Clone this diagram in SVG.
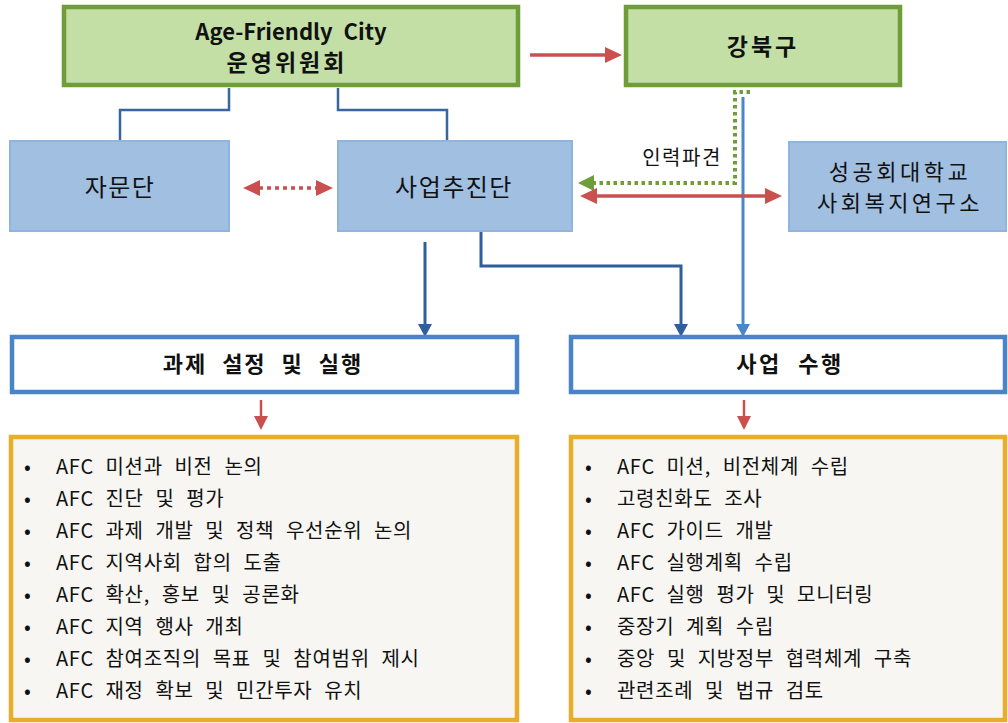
<svg xmlns="http://www.w3.org/2000/svg" width="1008" height="723" viewBox="0 0 1008 723">
<style>
.t{font-family:"Noto Sans CJK KR","Noto Sans",sans-serif;fill:#111;text-anchor:middle}
.b{font-weight:bold}
.green{fill:#c3dfa6;stroke:#6e9d3a;stroke-width:4.5}
.blue{fill:#a0bfe1;stroke:#8fb4de;stroke-width:2}
.white{fill:#fff;stroke:#4a84c8;stroke-width:4.5}
.orange{fill:#f7f6f2;stroke:#e9ad2c;stroke-width:4.5}
.li{font-family:"Noto Sans CJK KR","Noto Sans",sans-serif;font-size:20px;fill:#111;word-spacing:6.5px;letter-spacing:0.7px}
.c{fill:none}
</style>
<defs>
<marker id="mr" markerUnits="userSpaceOnUse" viewBox="0 -8 17 16" refX="1" refY="0" markerWidth="17" markerHeight="16" orient="auto-start-reverse"><path d="M0,-8 L17,0 L0,8 z" fill="#c9504f"/></marker>
<marker id="mrs" markerUnits="userSpaceOnUse" viewBox="0 -7 14 14" refX="1" refY="0" markerWidth="14" markerHeight="14" orient="auto"><path d="M0,-7 L14,0 L0,7 z" fill="#c9504f"/></marker>
<marker id="mg" markerUnits="userSpaceOnUse" viewBox="0 -8 16 16" refX="1" refY="0" markerWidth="16" markerHeight="16" orient="auto"><path d="M0,-8 L16,0 L0,8 z" fill="#6e9d3a"/></marker>
<marker id="mdb" markerUnits="userSpaceOnUse" viewBox="0 -7 13 14" refX="1" refY="0" markerWidth="13" markerHeight="14" orient="auto"><path d="M0,-7 L13,0 L0,7 z" fill="#2f5e99"/></marker>
<marker id="mlb" markerUnits="userSpaceOnUse" viewBox="0 -7 13 14" refX="1" refY="0" markerWidth="13" markerHeight="14" orient="auto"><path d="M0,-7 L13,0 L0,7 z" fill="#4a86c8"/></marker>
</defs>

<g id="connectors">
<path class="c" d="M229 88 V110 H120 V140" stroke="#3a66a0" stroke-width="2.5"/>
<path class="c" d="M338 88 V110 H447 V140" stroke="#3a66a0" stroke-width="2.5"/>
<line x1="530" y1="55" x2="606" y2="55" stroke="#c9504f" stroke-width="3.5" marker-end="url(#mr)"/>
<line x1="259" y1="188" x2="317" y2="188" stroke="#c9504f" stroke-width="3.5" stroke-dasharray="4 4" marker-start="url(#mr)" marker-end="url(#mr)"/>
<path class="c" d="M750 92 H735 V183 H593" stroke="#6e9d3a" stroke-width="4" stroke-dasharray="3.5 3.5" marker-end="url(#mg)"/>
<line x1="743" y1="97" x2="743" y2="325" stroke="#4a86c8" stroke-width="3" marker-end="url(#mlb)"/>
<line x1="596" y1="196" x2="766" y2="196" stroke="#c9504f" stroke-width="3.5" marker-start="url(#mr)" marker-end="url(#mr)"/>
<line x1="425" y1="242" x2="425" y2="325" stroke="#2f5e99" stroke-width="3" marker-end="url(#mdb)"/>
<path class="c" d="M481 232 V266 H681 V325" stroke="#2f5e99" stroke-width="3" marker-end="url(#mdb)"/>
<line x1="261" y1="400" x2="261" y2="417" stroke="#c9504f" stroke-width="2.5" marker-end="url(#mrs)"/>
<line x1="744" y1="400" x2="744" y2="417" stroke="#c9504f" stroke-width="2.5" marker-end="url(#mrs)"/>
<text class="t" x="682" y="165" font-size="20" letter-spacing="1.5">인력파견</text>
</g>

<g id="committee">
<rect class="green" x="64" y="7" width="454" height="78"/>
<text class="t b" x="291" y="40" font-size="22" word-spacing="6">Age-Friendly City</text>
<text class="t b" x="287" y="71" font-size="23" letter-spacing="3">운영위원회</text>
</g>

<g id="gangbuk">
<rect class="green" x="626" y="7" width="274" height="78"/>
<text class="t b" x="763" y="55" font-size="23" letter-spacing="3">강북구</text>
</g>

<g id="advisory">
<rect class="blue" x="10" y="141" width="219" height="90"/>
<text class="t" x="120" y="196" font-size="24" letter-spacing="1.5">자문단</text>
</g>

<g id="promotion">
<rect class="blue" x="338" y="141" width="234" height="90"/>
<text class="t" x="454" y="196" font-size="24" letter-spacing="1.5">사업추진단</text>
</g>

<g id="university">
<rect class="blue" x="789" y="142" width="217" height="89"/>
<text class="t" x="900" y="180" font-size="22" letter-spacing="3.5">성공회대학교</text>
<text class="t" x="900" y="211" font-size="22" letter-spacing="3.5">사회복지연구소</text>
</g>

<g id="task">
<rect class="white" x="12" y="337" width="505" height="55"/>
<text class="t b" x="263" y="372" font-size="22" word-spacing="8" letter-spacing="2">과제 설정 및 실행</text>
</g>

<g id="project">
<rect class="white" x="571" y="337" width="434" height="55"/>
<text class="t b" x="790" y="372" font-size="22" word-spacing="9" letter-spacing="2.5">사업 수행</text>
</g>

<g id="task-list">
<rect class="orange" x="11" y="437" width="506" height="283"/>
<g class="li">
<text x="24" y="474">•</text><text x="56" y="474">AFC 미션과 비전 논의</text>
<text x="24" y="506">•</text><text x="56" y="506">AFC 진단 및 평가</text>
<text x="24" y="538">•</text><text x="56" y="538">AFC 과제 개발 및 정책 우선순위 논의</text>
<text x="24" y="570">•</text><text x="56" y="570">AFC 지역사회 합의 도출</text>
<text x="24" y="602">•</text><text x="56" y="602">AFC 확산, 홍보 및 공론화</text>
<text x="24" y="634">•</text><text x="56" y="634">AFC 지역 행사 개최</text>
<text x="24" y="666">•</text><text x="56" y="666">AFC 참여조직의 목표 및 참여범위 제시</text>
<text x="24" y="698">•</text><text x="56" y="698">AFC 재정 확보 및 민간투자 유치</text>
</g>
</g>

<g id="project-list">
<rect class="orange" x="571" y="437" width="434" height="283"/>
<g class="li">
<text x="585" y="474">•</text><text x="617" y="474">AFC 미션, 비전체계 수립</text>
<text x="585" y="506">•</text><text x="617" y="506">고령친화도 조사</text>
<text x="585" y="538">•</text><text x="617" y="538">AFC 가이드 개발</text>
<text x="585" y="570">•</text><text x="617" y="570">AFC 실행계획 수립</text>
<text x="585" y="602">•</text><text x="617" y="602">AFC 실행 평가 및 모니터링</text>
<text x="585" y="634">•</text><text x="617" y="634">중장기 계획 수립</text>
<text x="585" y="666">•</text><text x="617" y="666">중앙 및 지방정부 협력체계 구축</text>
<text x="585" y="698">•</text><text x="617" y="698">관련조례 및 법규 검토</text>
</g>
</g>
</svg>
